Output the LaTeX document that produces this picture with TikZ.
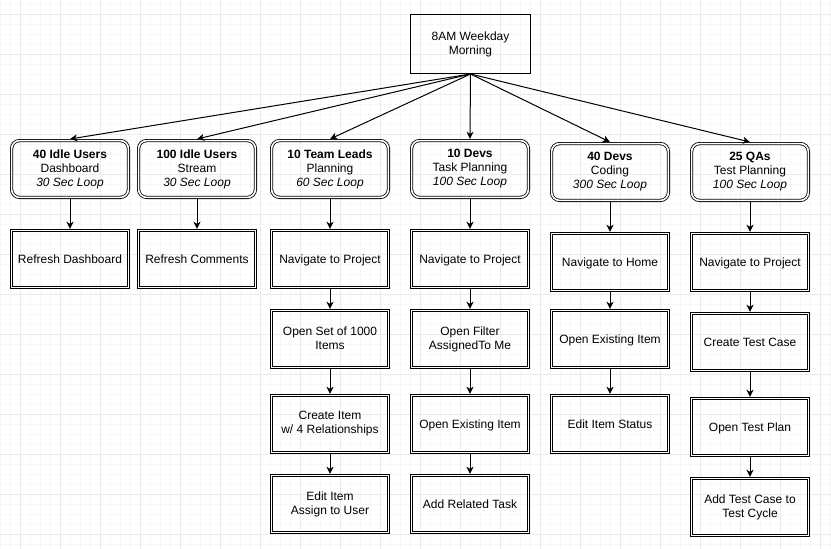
\documentclass[tikz,border=0pt]{standalone}
\usepackage{fontspec}
\setmainfont{Liberation Sans}
\usetikzlibrary{arrows.meta}
\definecolor{gridminor}{HTML}{F7F7F7}
\definecolor{gridmajor}{HTML}{EBEBEB}
\tikzset{
  lbl/.style={font=\fontsize{12}{14}\selectfont, align=center, inner sep=0pt,
    execute at begin node=\rule{0pt}{11pt}, execute at end node=\rule[-2.4pt]{0pt}{2.4pt}},
  topbox/.style={lbl, draw, line width=1pt, minimum width=120pt, minimum height=59pt},
  groupbox/.style={lbl, draw, rounded corners=8pt, line width=0.8pt, double, double distance=1.6pt,
    minimum width=116.8pt, minimum height=56.8pt, outer sep=1.6pt},
  stepbox/.style={lbl, draw, line width=0.8pt, double, double distance=1.6pt,
    minimum width=116.8pt, minimum height=56.8pt, outer sep=1.6pt},
  conn/.style={-{Stealth[length=7pt,width=7pt,inset=2pt]}, line width=1pt, shorten >=0.2pt}
}
\begin{document}
\begin{tikzpicture}[x=1pt,y=-1pt]
\useasboundingbox (0,0) rectangle (831,549);
\fill[white] (0,0) rectangle (831,549);
% grid
\foreach \x in {0,10,...,830} \draw[gridminor, line width=0.8pt] (\x,0) -- (\x,549);
\foreach \y in {4,14,...,544} \draw[gridminor, line width=0.8pt] (0,\y) -- (831,\y);
\foreach \x in {20,60,...,820} \draw[gridmajor, line width=0.8pt] (\x,0) -- (\x,549);
\foreach \y in {14,54,...,534} \draw[gridmajor, line width=0.8pt] (0,\y) -- (831,\y);

% top node
\node[topbox] (top) at (470.5,44) {8AM Weekday\\Morning};

% groups
\node[groupbox] (g1) at (70,169) {\textbf{40 Idle Users}\\Dashboard\\\textit{30 Sec Loop}};
\node[groupbox] (g2) at (197,169) {\textbf{100 Idle Users}\\Stream\\\textit{30 Sec Loop}};
\node[groupbox] (g3) at (330,169) {\textbf{10 Team Leads}\\Planning\\\textit{60 Sec Loop}};
\node[groupbox] (g4) at (470,169) {\textbf{10 Devs}\\Task Planning\\\textit{100 Sec Loop}};
\node[groupbox] (g5) at (610,172) {\textbf{40 Devs}\\Coding\\\textit{300 Sec Loop}};
\node[groupbox] (g6) at (750,172) {\textbf{25 QAs}\\Test Planning\\\textit{100 Sec Loop}};

% steps
\node[stepbox] (s1a) at (70,259) {Refresh Dashboard};
\node[stepbox] (s2a) at (197,259) {Refresh Comments};

\node[stepbox] (s3a) at (330,259) {Navigate to Project};
\node[stepbox] (s3b) at (330,339) {Open Set of 1000\\Items};
\node[stepbox] (s3c) at (330,424) {Create Item\\w/ 4 Relationships};
\node[stepbox] (s3d) at (330,504) {Edit Item\\Assign to User};

\node[stepbox] (s4a) at (470,259) {Navigate to Project};
\node[stepbox] (s4b) at (470,339) {Open Filter\\AssignedTo Me};
\node[stepbox] (s4c) at (470,424) {Open Existing Item};
\node[stepbox] (s4d) at (470,504) {Add Related Task};

\node[stepbox] (s5a) at (610,262) {Navigate to Home};
\node[stepbox] (s5b) at (610,339) {Open Existing Item};
\node[stepbox] (s5c) at (610,424) {Edit Item Status};

\node[stepbox] (s6a) at (750,262) {Navigate to Project};
\node[stepbox] (s6b) at (750,342) {Create Test Case};
\node[stepbox] (s6c) at (750,427) {Open Test Plan};
\node[stepbox] (s6d) at (750,507) {Add Test Case to\\Test Cycle};

% connectors
\foreach \g in {g1,g2,g3,g4,g5,g6} \draw[conn] (top.south) -- (\g.north);
\draw[conn] (g1) -- (s1a);
\draw[conn] (g2) -- (s2a);
\draw[conn] (g3) -- (s3a);
\draw[conn] (s3a) -- (s3b);
\draw[conn] (s3b) -- (s3c);
\draw[conn] (s3c) -- (s3d);
\draw[conn] (g4) -- (s4a);
\draw[conn] (s4a) -- (s4b);
\draw[conn] (s4b) -- (s4c);
\draw[conn] (s4c) -- (s4d);
\draw[conn] (g5) -- (s5a);
\draw[conn] (s5a) -- (s5b);
\draw[conn] (s5b) -- (s5c);
\draw[conn] (g6) -- (s6a);
\draw[conn] (s6a) -- (s6b);
\draw[conn] (s6b) -- (s6c);
\draw[conn] (s6c) -- (s6d);
\end{tikzpicture}
\end{document}
